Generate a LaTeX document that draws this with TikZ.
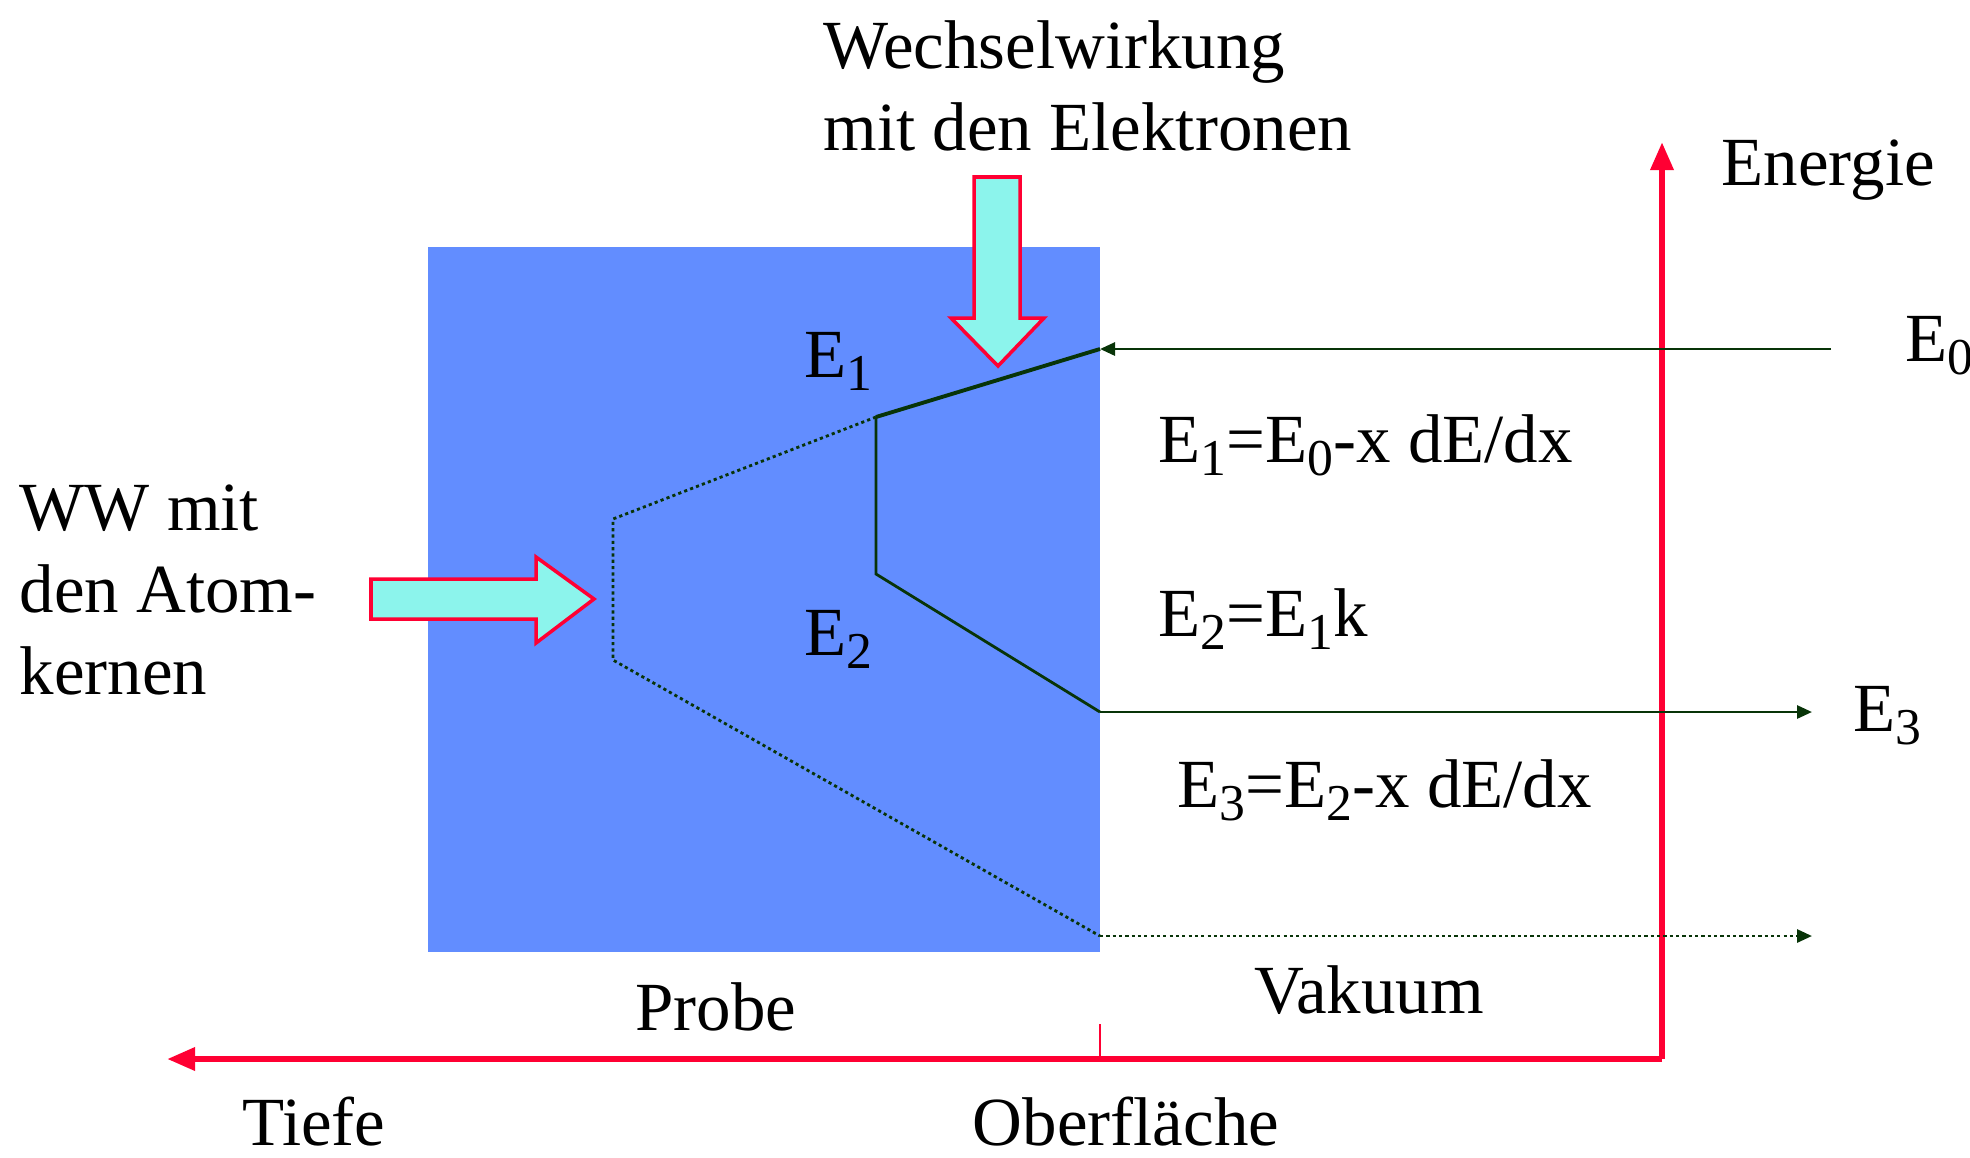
\documentclass[tikz,border=0pt]{standalone}
\usepackage{fontspec}
\setmainfont{Liberation Serif}
\usetikzlibrary{arrows.meta, positioning}
\usepackage{xcolor}
\definecolor{probeblue}{RGB}{98,141,255}
\definecolor{wwcyan}{RGB}{140,244,236}
\definecolor{axisred}{RGB}{255,0,51}
\definecolor{trackgreen}{RGB}{8,52,8}
\newcommand{\idx}[1]{\raisebox{-0.2em}{\fontsize{14.7}{14.7}\selectfont #1}}

\begin{document}
\begin{tikzpicture}[x=0.01cm, y=-0.01cm,
        lbl/.style={font=\fontsize{19.6}{23.3}\selectfont, inner sep=0pt, anchor=base west},
        axis/.style={-{Triangle[length=0.28cm, width=0.22cm]}, line width=1.8pt, draw=axisred},
        track/.style={line width=0.8pt, draw=trackgreen},
        trackarrow/.style={track, -{Triangle[length=0.15cm, width=0.13cm]}},
        faint/.style={track, dash pattern=on 0.9pt off 0.9pt},
        fatarrow/.style={fill=wwcyan, draw=axisred, line width=1pt}
    ]
        \useasboundingbox (0,0) rectangle (1970,1157);

        % Probe
        \fill[probeblue] (428,247) rectangle (1100,952);

        % Points of the energy paths
        \coordinate (surf0) at (1100,349);
        \coordinate (in0) at (1831,349);
        \coordinate (k1) at (876,417);
        \coordinate (k2) at (876,574);
        \coordinate (surf3) at (1100,712);
        \coordinate (out3) at (1812,712);
        \coordinate (d1) at (613,519);
        \coordinate (d2) at (613,660);
        \coordinate (surf4) at (1100,936);
        \coordinate (out4) at (1812,936);

        % Axes
        \coordinate (origin) at (1662,1059);
        \coordinate (etop) at (1662,142);
        \coordinate (dleft) at (167,1059);
        \coordinate (tickup) at (1100,1024);
        \coordinate (tickdn) at (1100,1059);
        \draw[axis] (origin) -- (etop);
        \draw[axis] (origin) -- (dleft);
        \draw[axisred, line width=0.7pt] (tickup) -- (tickdn);

        % Paths
        \draw[trackarrow] (in0) -- (surf0);
        \draw[track, line width=1.1pt] (surf0) -- (k1);
        \draw[track] (k1) -- (k2) -- (surf3);
        \draw[trackarrow] (surf3) -- (out3);
        \draw[faint] (k1) -- (d1) -- (d2) -- (surf4);
        \draw[faint, -{Triangle[length=0.15cm, width=0.13cm]}] (surf4) -- (out4);

        % Interaction arrows
        \draw[fatarrow] (974,177) -- (1020,177) -- (1020,318) -- (1044,318) -- (998,366)
            -- (951,318) -- (974,318) -- cycle;
        \draw[fatarrow] (371,579) -- (536,579) -- (536,557) -- (594,599) -- (536,643)
            -- (536,619) -- (371,619) -- cycle;

        % Labels
        \node[lbl, anchor=north west, align=left] (wwel) at (823,20) {Wechselwirkung\\mit den Elektronen};
        \node[lbl, anchor=north west, align=left] (wwak) at (19,484) {WW mit\\den Atom-\\kernen};
        \node[lbl] (energie) at (1721,185) {Energie};
        \node[lbl] (e0) at (1905,361) {E\idx{0}};
        \node[lbl] (e3) at (1853,731) {E\idx{3}};
        \node[lbl] (e1box) at (804,377) {E\idx{1}};
        \node[lbl] (e2box) at (804,655) {E\idx{2}};
        \node[lbl] (eq1) at (1158,462) {E\idx{1}=E\idx{0}-x dE/dx};
        \node[lbl] (eq2) at (1158,636) {E\idx{2}=E\idx{1}k};
        \node[lbl] (eq3) at (1177,807) {E\idx{3}=E\idx{2}-x dE/dx};
        \node[lbl, anchor=base] (probe) at (716,1030) {Probe};
        \node[lbl, anchor=base] (vakuum) at (1369,1013) {Vakuum};
        \node[lbl, anchor=base] (tiefe) at (314,1145) {Tiefe};
        \node[lbl, anchor=base] (oberfl) at (1126,1145) {Oberfläche};
    \end{tikzpicture}
\end{document}
